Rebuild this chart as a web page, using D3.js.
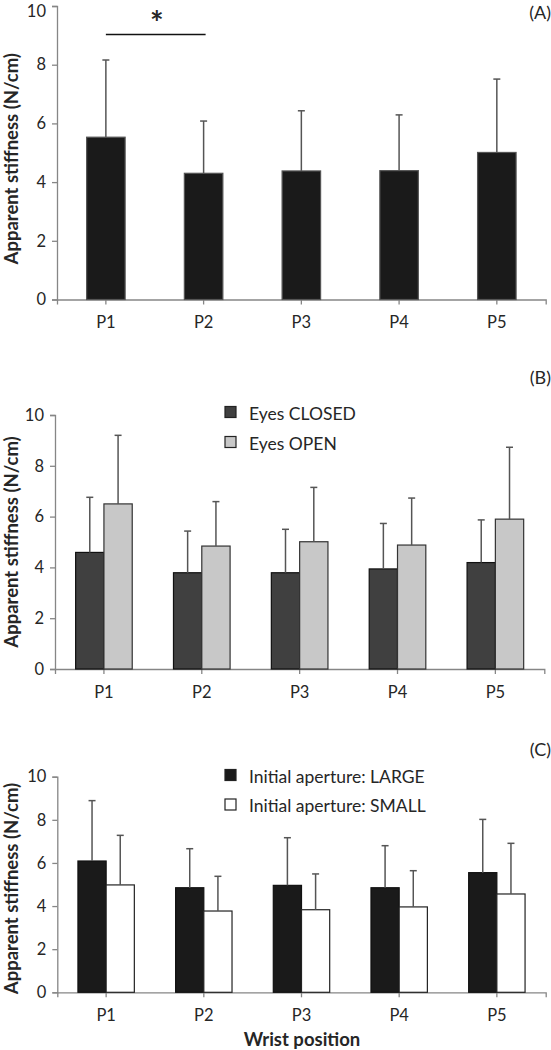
<!DOCTYPE html>
<html><head><meta charset="utf-8">
<script src="https://cdn.jsdelivr.net/npm/d3@7"></script>
<style>
body{margin:0;background:#fff;}
svg text{font-family:Lato,"Open Sans",sans-serif;fill:#262626;}
</style></head>
<body><svg id="c" width="551" height="1050"></svg>
<script>
const categories = ["P1","P2","P3","P4","P5"];
const yTicks = [0,2,4,6,8,10];
// Panel A
const aMean = [5.53,4.30,4.38,4.39,5.01];
const aSD   = [2.63,1.78,2.05,1.90,2.50];
// Panel B
const bNames = ["Eyes CLOSED","Eyes OPEN"];
const bClosedMean = [4.59,3.79,3.79,3.94,4.19];
const bClosedSD   = [2.17,1.64,1.71,1.79,1.68];
const bOpenMean   = [6.50,4.84,5.01,4.88,5.90];
const bOpenSD     = [2.70,1.75,2.14,1.85,2.83];
// Panel C
const cNames = ["Initial aperture: LARGE","Initial aperture: SMALL"];
const cLargeMean = [6.09,4.85,4.96,4.85,5.55];
const cLargeSD   = [2.80,1.81,2.21,1.95,2.47];
const cSmallMean = [4.98,3.77,3.83,3.96,4.56];
const cSmallSD   = [2.30,1.61,1.66,1.68,2.35];

const svg = d3.select("#c");
const axisColor = "#868686";
const errColor = "#555";

function panel(cfg){
  const g = svg.append("g");
  const x = d3.scaleBand().domain(categories).range([cfg.x0, cfg.x1]).padding(0);
  const y = d3.scaleLinear().domain([0,10]).range([cfg.yb, cfg.yt]);
  // y axis
  const ya = g.append("g").attr("transform",`translate(${cfg.x0},0)`)
    .call(d3.axisLeft(y).tickValues(yTicks).tickSize(5).tickPadding(6));
  ya.select(".domain").attr("stroke",axisColor).attr("stroke-width",1.3);
  ya.selectAll(".tick line").attr("stroke",axisColor).attr("stroke-width",1.3);
  ya.selectAll(".tick text").style("font-size","16.5px").style("font-family","Lato").attr("fill","#262626")
    .attr("dy", d => (d===10 && cfg.topPush) ? "0.62em" : "0.32em");
  // x axis
  const xa = g.append("g").attr("transform",`translate(0,${cfg.yb})`)
    .call(d3.axisBottom(x).tickSize(5).tickSizeOuter(5).tickPadding(12));
  xa.select(".domain").attr("stroke",axisColor).attr("stroke-width",1.3);
  xa.selectAll(".tick line").attr("stroke",axisColor).attr("stroke-width",1.3);
  xa.selectAll(".tick text").style("font-size","16.5px").style("font-family","Lato").attr("fill","#262626");
  // series
  const n = cfg.series.length;
  const bw = cfg.barW;
  cfg.series.forEach((s,si)=>{
    const off = (si - n/2) * bw;
    const cx = c => x(c) + x.bandwidth()/2 + off;
    g.selectAll(null).data(categories).enter().append("rect")
      .attr("x", c=>cx(c)).attr("width", bw)
      .attr("y", (c,i)=>y(s.mean[i])).attr("height",(c,i)=>y(0)-y(s.mean[i]))
      .attr("fill", s.fill).attr("stroke", s.stroke).attr("stroke-width",1.2);
    // error bars
    g.selectAll(null).data(categories).enter().append("line")
      .attr("x1", c=>cx(c)+bw/2).attr("x2", c=>cx(c)+bw/2)
      .attr("y1", (c,i)=>y(s.mean[i])).attr("y2",(c,i)=>y(s.mean[i]+s.sd[i]))
      .attr("stroke", errColor).attr("stroke-width",1.5);
    g.selectAll(null).data(categories).enter().append("line")
      .attr("x1", c=>cx(c)+bw/2-3.5).attr("x2", c=>cx(c)+bw/2+3.5)
      .attr("y1", (c,i)=>y(s.mean[i]+s.sd[i])).attr("y2",(c,i)=>y(s.mean[i]+s.sd[i]))
      .attr("stroke", errColor).attr("stroke-width",1.5);
  });
  // y title
  g.append("text").attr("transform",`translate(${cfg.titleX},${(cfg.yt+cfg.yb)/2 + cfg.titleDy}) rotate(-90)`)
    .attr("text-anchor","middle").attr("dominant-baseline","central")
    .style("font-size","18.5px").style("font-weight","bold").attr("fill","#111")
    .text("Apparent stiffness (N/cm)");
  // panel label
  g.append("text").attr("x",551).attr("y",cfg.labelY).attr("text-anchor","end")
    .style("font-size","18px").text(cfg.label);
  // legend
  if(cfg.legend){
    cfg.legend.forEach((l,i)=>{
      const ly = cfg.legendY + i*cfg.legendGap;
      g.append("rect").attr("x",225).attr("y",ly-5.5).attr("width",11).attr("height",11)
        .attr("fill",cfg.series[i].fill).attr("stroke","#222").attr("stroke-width",1.2);
      g.append("text").attr("x",249).attr("y",ly+1).attr("dominant-baseline","central")
        .style("font-size","17.5px").text(l);
    });
  }
  return {x,y,g};
}

const A = panel({x0:57,x1:545.7,yb:299.5,yt:6,barW:38.5,label:"(A)",labelY:19,titleX:11,titleDy:6,topPush:true,
  series:[{mean:aMean,sd:aSD,fill:"#1a1a1a",stroke:"#555"}]});
// significance
A.g.append("line").attr("x1",A.x("P1")+A.x.bandwidth()/2).attr("x2",A.x("P2")+A.x.bandwidth()/2+2)
  .attr("y1",A.y(9.03)).attr("y2",A.y(9.03)).attr("stroke","#111").attr("stroke-width",1.6);
A.g.append("text").attr("x",(A.x("P1")+A.x("P2"))/2+A.x.bandwidth()/2+2).attr("y",A.y(9.03)+1)
  .attr("text-anchor","middle").style("font-size","32px").style("font-weight","bold").attr("fill","#111").text("*");

panel({x0:55,x1:544.3,yb:669,yt:415,barW:28.3,label:"(B)",labelY:384,titleX:11,titleDy:0,
  legend:bNames,legendY:412,legendGap:30,
  series:[{mean:bClosedMean,sd:bClosedSD,fill:"#404040",stroke:"#111"},
          {mean:bOpenMean,sd:bOpenSD,fill:"#c8c8c8",stroke:"#333"}]});

panel({x0:57.3,x1:545.7,yb:992.3,yt:776.7,barW:28.2,label:"(C)",labelY:756,titleX:11,titleDy:4,
  legend:cNames,legendY:775,legendGap:29.5,
  series:[{mean:cLargeMean,sd:cLargeSD,fill:"#1a1a1a",stroke:"#111"},
          {mean:cSmallMean,sd:cSmallSD,fill:"#ffffff",stroke:"#222"}]});

svg.append("text").attr("x",302).attr("y",1045.5).attr("text-anchor","middle")
  .style("font-size","18.5px").style("font-weight","bold").attr("fill","#111").text("Wrist position");
</script></body></html>
